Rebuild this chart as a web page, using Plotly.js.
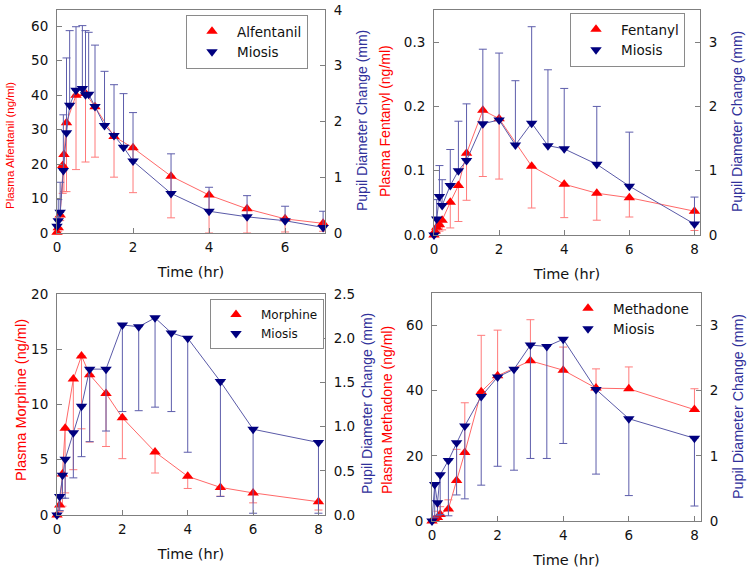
<!DOCTYPE html>
<html>
<head>
<meta charset="utf-8">
<script src="https://cdn.plot.ly/plotly-3.0.1.min.js"></script>
<style>html,body{margin:0;padding:0;background:#fff;}#chart{width:750px;height:572px;}</style>
</head>
<body>
<div id="chart"></div>
<script>
// ---------- Panel 1: Alfentanil ----------
const alfTime   = [0, 0.033, 0.083, 0.15, 0.183, 0.25, 0.5, 0.75, 1, 1.5, 2, 3, 4, 5, 6, 7];
const alfConc   = [0.2, 1.5, 5.2, 19.6, 22.8, 32, 40, 40.5, 36.6, 28, 24.7, 16.5, 11, 7, 4.1, 2.8];
const alfLow    = [0.2, 0.5, 3.6, 11.5, 12, 12, 18.4, 20.6, 22, 16.2, 11.7, 4.4, 0, 0, 0.3, 0.5];
const mioATime  = [0, 0.033, 0.083, 0.167, 0.25, 0.333, 0.5, 0.667, 0.75, 0.833, 1, 1.25, 1.5, 1.75, 2, 3, 4, 5, 6, 7];
const mioA      = [0.12, 0.22, 0.37, 1.12, 1.8, 2.29, 2.56, 2.59, 2.48, 2.49, 2.27, 1.93, 1.75, 1.54, 1.29, 0.71, 0.39, 0.29, 0.22, 0.1];
const mioAHigh  = [0.3, 0.6, 0.91, 2.12, 3.14, 3.63, 3.7, 3.72, 3.63, 3.6, 3.37, 2.9, 2.66, 2.5, 2.16, 1.42, 0.82, 0.67, 0.48, 0.39];

// ---------- Panel 2: Fentanyl ----------
const fenTime   = [0, 0.033, 0.083, 0.167, 0.25, 0.5, 0.75, 1, 1.5, 2, 3, 4, 5, 6, 8];
const fenConc   = [0, 0.006, 0.012, 0.016, 0.023, 0.051, 0.077, 0.127, 0.194, 0.181, 0.107, 0.079, 0.065, 0.058, 0.037];
const fenLow    = [0, 0.002, 0.004, 0.006, 0.008, 0.011, 0.021, 0.054, 0.091, 0.087, 0.042, 0.027, 0.023, 0.028, 0.007];
const mioFTime  = [0, 0.083, 0.167, 0.25, 0.5, 0.75, 1, 1.5, 2, 2.5, 3, 3.5, 4, 5, 6, 8];
const mioF      = [0, 0.25, 0.6, 0.46, 0.77, 1.0, 1.16, 1.73, 1.79, 1.4, 1.74, 1.39, 1.34, 1.1, 0.76, 0.17];
const mioFHigh  = [0, 0.55, 1.08, 0.86, 1.33, 1.77, 2.04, 2.89, 2.83, 2.4, 3.24, 2.57, 2.28, 2.0, 1.6, 0.59];

// ---------- Panel 3: Morphine ----------
const morTime   = [0, 0.083, 0.167, 0.25, 0.5, 0.75, 1, 1.5, 2, 3, 4, 5, 6, 8];
const morConc   = [0, 0.9, 3.7, 7.85, 12.3, 14.4, 12.7, 11, 8.8, 5.7, 3.5, 2.5, 2.0, 1.2];
const morLow    = [0, 0.3, 0.8, 2.0, 4.1, 7.8, 6.6, 6.2, 5.1, 3.8, 2.4, 1.7, 1.1, 0.45];
const mioMTime  = [0, 0.083, 0.167, 0.25, 0.5, 0.75, 1, 1.5, 2, 2.5, 3, 3.5, 4, 5, 6, 8];
const mioM      = [0, 0.21, 0.45, 0.63, 0.93, 1.23, 1.65, 1.65, 2.15, 2.13, 2.23, 2.06, 2.0, 1.51, 0.97, 0.82];
const mioMLow   = [0, 0.05, 0.19, 0.19, 0.42, 0.66, 0.83, 0.95, 1.17, 1.18, 1.22, 1.17, 0.71, 0.21, 0.02, 0.02];

// ---------- Panel 4: Methadone ----------
const metTime   = [0, 0.083, 0.167, 0.25, 0.5, 0.75, 1, 1.5, 2, 3, 4, 5, 6, 8];
const metConc   = [0, 0.5, 1.1, 2.0, 3.7, 12.4, 21, 39.7, 44.6, 49.2, 46.3, 40.8, 40.6, 34.2];
const metHigh   = [0, 1.5, 3, 4.4, 6.5, 22, 36.3, 57, 58.6, 61.8, 53.4, 46.7, 47.3, 40.6];
const mioMeTime = [0, 0.083, 0.167, 0.25, 0.5, 0.75, 1, 1.5, 2, 2.5, 3, 3.5, 4, 5, 6, 8];
const mioMe     = [0, 0.56, 0.28, 0.71, 0.93, 1.2, 1.46, 1.91, 2.21, 2.33, 2.7, 2.68, 2.79, 2.02, 1.57, 1.27];
const mioMeLow  = [0, 0.05, 0.08, 0.1, 0.08, 0.4, 0.34, 0.55, 0.84, 0.78, 0.96, 0.96, 1.19, 0.72, 0.39, 0.23];

// ---------- Labels ----------
const drugNames  = ['Alfentanil', 'Fentanyl', 'Morphine', 'Methadone'];
const effectName = 'Miosis';
const leftTitles = ['Plasma Alfentanil (ng/ml)', 'Plasma Fentanyl (ng/ml)', 'Plasma Morphine (ng/ml)', 'Plasma Methadone (ng/ml)'];
const rightTitle = 'Pupil Diameter Change (mm)';
const xTitle     = 'Time (hr)';

// ---------- Styling ----------
const RED = '#ff0000', RED_LINE = '#ff6868', RED_ERR = '#ff7b7b';
const BLUE = '#00007f', BLUE_LINE = '#5a5aa8', BLUE_ERR = '#5d5dab';
const FONT_TXT = 'DejaVu Sans, Verdana, sans-serif';
const FONT_Y = 'Liberation Sans, Arial, sans-serif';
const FRAME = '#7f7f7f';

function below(v, lo) { return v.map((x, i) => Math.max(x - lo[i], 0)); }
function above(v, hi) { return v.map((x, i) => Math.max(hi[i] - x, 0)); }
function zeros(v) { return v.map(() => 0); }

function pair(t, y, xa, ya, legend, name, color, lineColor, errColor, symbol, errUp, errDown) {
  return [
    { type: 'scatter', mode: 'lines', x: t, y: y, xaxis: xa, yaxis: ya, showlegend: false,
      line: { color: lineColor, width: 1 }, hoverinfo: 'skip', cliponaxis: false },
    { type: 'scatter', mode: 'markers', x: t, y: y, xaxis: xa, yaxis: ya, name: name, legend: legend,
      marker: { symbol: symbol, size: 10, color: color }, cliponaxis: false,
      error_y: { type: 'data', symmetric: false, array: errUp, arrayminus: errDown,
                 color: errColor, thickness: 1, width: 4 } }
  ];
}

const data = [].concat(
  pair(alfTime, alfConc, 'x', 'y', 'legend', drugNames[0], RED, RED_LINE, RED_ERR, 'triangle-up', zeros(alfConc), below(alfConc, alfLow)),
  pair(mioATime, mioA, 'x', 'y2', 'legend', effectName, BLUE, BLUE_LINE, BLUE_ERR, 'triangle-down', above(mioA, mioAHigh), zeros(mioA)),
  pair(fenTime, fenConc, 'x2', 'y3', 'legend2', drugNames[1], RED, RED_LINE, RED_ERR, 'triangle-up', zeros(fenConc), below(fenConc, fenLow)),
  pair(mioFTime, mioF, 'x2', 'y4', 'legend2', effectName, BLUE, BLUE_LINE, BLUE_ERR, 'triangle-down', above(mioF, mioFHigh), zeros(mioF)),
  pair(morTime, morConc, 'x3', 'y5', 'legend3', drugNames[2], RED, RED_LINE, RED_ERR, 'triangle-up', zeros(morConc), below(morConc, morLow)),
  pair(mioMTime, mioM, 'x3', 'y6', 'legend3', effectName, BLUE, BLUE_LINE, BLUE_ERR, 'triangle-down', zeros(mioM), below(mioM, mioMLow)),
  pair(metTime, metConc, 'x4', 'y7', 'legend4', drugNames[3], RED, RED_LINE, RED_ERR, 'triangle-up', above(metConc, metHigh), zeros(metConc)),
  pair(mioMeTime, mioMe, 'x4', 'y8', 'legend4', effectName, BLUE, BLUE_LINE, BLUE_ERR, 'triangle-down', zeros(mioMe), below(mioMe, mioMeLow))
);

const W = 750, H = 572;
const px = v => v / W, py = v => 1 - v / H;

function xAx(domain, range, anchor) {
  return { domain: domain, range: range, anchor: anchor, dtick: 2, tick0: 0,
    showline: true, mirror: true, linecolor: FRAME, linewidth: 1,
    ticks: 'inside', ticklen: 5, tickcolor: FRAME, showgrid: false, zeroline: false,
    tickfont: { family: FONT_TXT, size: 13.5, color: '#111' }, ticklabelstandoff: 2,
    title: { text: xTitle, font: { family: FONT_TXT, size: 14.5, color: '#111' }, standoff: 12 } };
}
function yAx(domain, range, anchor, dtick, fmt, side, overlaying) {
  const a = { domain: domain, range: range, anchor: anchor, dtick: dtick, tick0: 0, side: side,
    showline: true, mirror: false, linecolor: FRAME, linewidth: 1,
    ticks: 'inside', ticklen: 5, tickcolor: FRAME, showgrid: false, zeroline: false,
    tickformat: fmt, tickfont: { family: FONT_TXT, size: 13.5, color: '#111' }, ticklabelstandoff: 5 };
  if (overlaying) a.overlaying = overlaying;
  return a;
}

const d1x = [px(57), px(325)], d1y = [py(233), py(10)];
const d2x = [px(434), px(700)], d2y = [py(235), py(10)];
const d3x = [px(57), px(325)], d3y = [py(515), py(294)];
const d4x = [px(432), px(701)], d4y = [py(521), py(293)];

function yTitle(text, x, y, color, size) {
  return { text: text, xref: 'paper', yref: 'paper', x: px(x), y: py(y), textangle: -90,
    showarrow: false, xanchor: 'center', yanchor: 'middle',
    font: { family: FONT_Y, size: size, color: color } };
}
function leg(x, y, border, size) {
  return { x: px(x), y: py(y), xanchor: 'left', yanchor: 'top', bgcolor: border ? '#fff' : 'rgba(255,255,255,0)',
    bordercolor: border ? '#8a8a8a' : 'rgba(0,0,0,0)', borderwidth: border ? 1 : 0,
    font: { family: FONT_TXT, size: size, color: '#111' }, itemwidth: 40, tracegroupgap: 0 };
}

const layout = {
  width: W, height: H, margin: { l: 0, r: 0, t: 0, b: 0 },
  paper_bgcolor: '#fff', plot_bgcolor: '#fff', showlegend: true,
  xaxis: xAx(d1x, [0, 7.05], 'y'),
  yaxis: yAx(d1y, [0, 64.7], 'x', 10, 'd', 'left'),
  yaxis2: yAx(d1y, [0, 4], 'x', 1, 'd', 'right', 'y'),
  xaxis2: xAx(d2x, [0, 8.17], 'y3'),
  yaxis3: yAx(d2y, [0, 0.35], 'x2', 0.1, '.1f', 'left'),
  yaxis4: yAx(d2y, [0, 3.5], 'x2', 1, 'd', 'right', 'y3'),
  xaxis3: xAx(d3x, [0, 8.2], 'y5'),
  yaxis5: yAx(d3y, [0, 20], 'x3', 5, 'd', 'left'),
  yaxis6: yAx(d3y, [0, 2.5], 'x3', 0.5, '.1f', 'right', 'y5'),
  xaxis4: xAx(d4x, [0, 8.2], 'y7'),
  yaxis7: yAx(d4y, [0, 70], 'x4', 20, 'd', 'left'),
  yaxis8: yAx(d4y, [0, 3.5], 'x4', 1, 'd', 'right', 'y7'),
  legend:  leg(186, 15, true, 13.5),
  legend2: leg(570, 13, true, 13.5),
  legend3: leg(210, 299, true, 12),
  legend4: leg(563, 293, false, 13.5),
  annotations: [
    yTitle(leftTitles[0], 10, 146, RED, 11.5),
    yTitle(rightTitle, 362, 121, '#30309a', 14),
    yTitle(leftTitles[1], 385, 121, RED, 14),
    yTitle(rightTitle, 737, 122, '#30309a', 14),
    yTitle(leftTitles[2], 21, 400, RED, 14.5),
    yTitle(rightTitle, 367, 404, '#30309a', 14),
    yTitle(leftTitles[3], 387, 410, RED, 14),
    yTitle(rightTitle, 738, 407, '#30309a', 14.3)
  ]
};

Plotly.newPlot('chart', data, layout, { displayModeBar: false, staticPlot: true });
</script>
</body>
</html>
